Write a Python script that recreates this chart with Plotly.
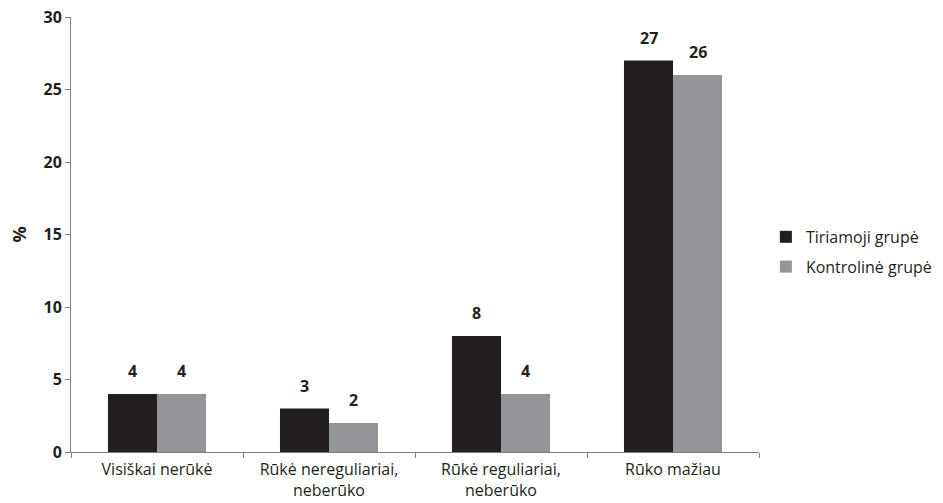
import plotly.graph_objects as go

categories = ["Visiškai nerūkė", "Rūkė nereguliariai,<br>neberūko",
              "Rūkė reguliariai,<br>neberūko", "Rūko mažiau"]
series_names = ["Tiriamoji grupė", "Kontrolinė grupė"]
tiriamoji = [4, 3, 8, 27]
kontroline = [4, 2, 4, 26]
y_ticks = [0, 5, 10, 15, 20, 25, 30]

colors = ["#231f20", "#939598"]
font_family = "Open Sans, Liberation Sans, sans-serif"

fig = go.Figure()
for i, (name, vals) in enumerate(zip(series_names, [tiriamoji, kontroline])):
    fig.add_trace(go.Bar(
        x=categories, y=vals, name=name, marker_color=colors[i],
        marker_line_width=0, legendgroup=name,
    ))

# value labels above each bar
for i, vals in enumerate([tiriamoji, kontroline]):
    shift = -24.5 if i == 0 else 24.5
    for c, v in zip(categories, vals):
        fig.add_annotation(
            x=c, y=v, text=f"<b>{v}</b>", showarrow=False,
            xshift=shift, yshift=10, yanchor="bottom",
            font=dict(size=16, color="#231f20", family=font_family),
        )

fig.update_layout(
    width=943, height=503,
    margin=dict(l=71, r=184, t=17, b=51, autoexpand=False),
    plot_bgcolor="white", paper_bgcolor="white",
    barmode="group", bargap=0.43, bargroupgap=0,
    font=dict(family=font_family, size=16, color="#231f20"),
    legend=dict(x=1.01, y=0.46, xanchor="left", yanchor="middle",
                tracegroupgap=6, traceorder="grouped",
                font=dict(size=16, color="#231f20")),
)
fig.update_xaxes(
    showline=True, linecolor="#808080", linewidth=1,
    ticks="outside", tickson="boundaries", ticklen=5, tickcolor="#808080",
    tickfont=dict(size=16), showgrid=False, automargin=False,
    ticklabelstandoff=3,
)
fig.update_yaxes(
    range=[0, 30], tickvals=y_ticks,
    ticktext=[f"<b>{t}</b>" for t in y_ticks],
    showline=True, linecolor="#808080", linewidth=1,
    ticks="outside", ticklen=5, tickcolor="#808080",
    showgrid=False, zeroline=False, tickfont=dict(size=16),
    automargin=False,
    title=dict(text="<b>%</b>", font=dict(size=18), standoff=12),
)

fig.write_html("out.html")
